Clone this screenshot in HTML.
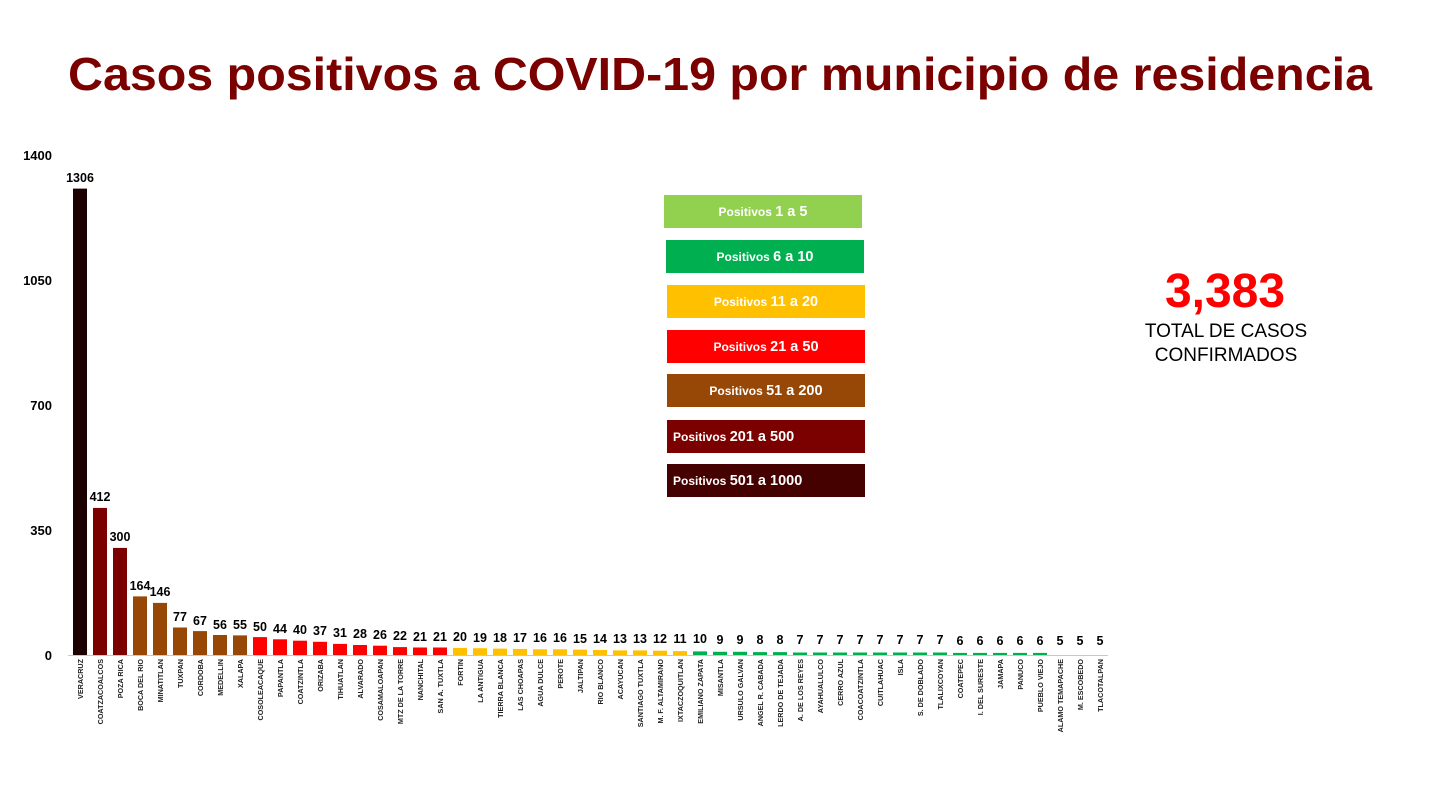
<!DOCTYPE html>
<html><head><meta charset="utf-8"><style>
html,body{margin:0;padding:0;background:#fff;}
svg{display:block;font-family:"Liberation Sans",Arial,sans-serif;}
.v{font-size:12.5px;font-weight:bold;text-anchor:middle;fill:#000}
.n{font-size:7.2px;font-weight:bold;text-anchor:end;fill:#222}
.y{font-size:13px;font-weight:bold;text-anchor:end;fill:#000}
.lg{font-size:12px;font-weight:bold;fill:#fff}
.lg tspan.b{font-size:14.5px}
</style></head><body>
<svg width="1440" height="810" viewBox="0 0 1440 810" xmlns="http://www.w3.org/2000/svg">
<rect width="1440" height="810" fill="#fff"/>
<text x="68" y="90" font-size="46" font-weight="bold" fill="#7b0000" textLength="1304" lengthAdjust="spacingAndGlyphs">Casos positivos a COVID-19  por municipio de residencia</text>

<text class="y" x="52" y="160">1400</text>
<text class="y" x="52" y="285">1050</text>
<text class="y" x="52" y="410">700</text>
<text class="y" x="52" y="535">350</text>
<text class="y" x="52" y="660">0</text>
<line x1="68" y1="655.5" x2="1108" y2="655.5" stroke="#c8c8c8" stroke-width="1"/>

<g id="bars">
<rect x="73" y="188.6" width="14" height="466.4" fill="#1c0000"/>
<rect x="93" y="507.9" width="14" height="147.1" fill="#7b0000"/>
<rect x="113" y="547.9" width="14" height="107.1" fill="#7b0000"/>
<rect x="133" y="596.4" width="14" height="58.6" fill="#974706"/>
<rect x="153" y="602.9" width="14" height="52.1" fill="#974706"/>
<rect x="173" y="627.5" width="14" height="27.5" fill="#974706"/>
<rect x="193" y="631.1" width="14" height="23.9" fill="#974706"/>
<rect x="213" y="635" width="14" height="20" fill="#974706"/>
<rect x="233" y="635.4" width="14" height="19.6" fill="#974706"/>
<rect x="253" y="637.1" width="14" height="17.9" fill="#ff0000"/>
<rect x="273" y="639.3" width="14" height="15.7" fill="#ff0000"/>
<rect x="293" y="640.7" width="14" height="14.3" fill="#ff0000"/>
<rect x="313" y="641.8" width="14" height="13.2" fill="#ff0000"/>
<rect x="333" y="643.9" width="14" height="11.1" fill="#ff0000"/>
<rect x="353" y="645" width="14" height="10" fill="#ff0000"/>
<rect x="373" y="645.7" width="14" height="9.3" fill="#ff0000"/>
<rect x="393" y="647.1" width="14" height="7.9" fill="#ff0000"/>
<rect x="413" y="647.5" width="14" height="7.5" fill="#ff0000"/>
<rect x="433" y="647.5" width="14" height="7.5" fill="#ff0000"/>
<rect x="453" y="647.9" width="14" height="7.1" fill="#ffc000"/>
<rect x="473" y="648.2" width="14" height="6.8" fill="#ffc000"/>
<rect x="493" y="648.6" width="14" height="6.4" fill="#ffc000"/>
<rect x="513" y="648.9" width="14" height="6.1" fill="#ffc000"/>
<rect x="533" y="649.3" width="14" height="5.7" fill="#ffc000"/>
<rect x="553" y="649.3" width="14" height="5.7" fill="#ffc000"/>
<rect x="573" y="649.6" width="14" height="5.4" fill="#ffc000"/>
<rect x="593" y="650" width="14" height="5" fill="#ffc000"/>
<rect x="613" y="650.4" width="14" height="4.6" fill="#ffc000"/>
<rect x="633" y="650.4" width="14" height="4.6" fill="#ffc000"/>
<rect x="653" y="650.7" width="14" height="4.3" fill="#ffc000"/>
<rect x="673" y="651.1" width="14" height="3.9" fill="#ffc000"/>
<rect x="693" y="651.4" width="14" height="3.6" fill="#00b050"/>
<rect x="713" y="651.8" width="14" height="3.2" fill="#00b050"/>
<rect x="733" y="651.8" width="14" height="3.2" fill="#00b050"/>
<rect x="753" y="652.1" width="14" height="2.9" fill="#00b050"/>
<rect x="773" y="652.1" width="14" height="2.9" fill="#00b050"/>
<rect x="793" y="652.5" width="14" height="2.5" fill="#00b050"/>
<rect x="813" y="652.5" width="14" height="2.5" fill="#00b050"/>
<rect x="833" y="652.5" width="14" height="2.5" fill="#00b050"/>
<rect x="853" y="652.5" width="14" height="2.5" fill="#00b050"/>
<rect x="873" y="652.5" width="14" height="2.5" fill="#00b050"/>
<rect x="893" y="652.5" width="14" height="2.5" fill="#00b050"/>
<rect x="913" y="652.5" width="14" height="2.5" fill="#00b050"/>
<rect x="933" y="652.5" width="14" height="2.5" fill="#00b050"/>
<rect x="953" y="652.9" width="14" height="2.1" fill="#00b050"/>
<rect x="973" y="652.9" width="14" height="2.1" fill="#00b050"/>
<rect x="993" y="652.9" width="14" height="2.1" fill="#00b050"/>
<rect x="1013" y="652.9" width="14" height="2.1" fill="#00b050"/>
<rect x="1033" y="652.9" width="14" height="2.1" fill="#00b050"/>
</g>

<g>
<text class="v" x="80" y="182">1306</text>
<text class="v" x="100" y="501">412</text>
<text class="v" x="120" y="541">300</text>
<text class="v" x="140" y="590">164</text>
<text class="v" x="160" y="596">146</text>
<text class="v" x="180" y="621">77</text>
<text class="v" x="200" y="625">67</text>
<text class="v" x="220" y="629">56</text>
<text class="v" x="240" y="629">55</text>
<text class="v" x="260" y="631">50</text>
<text class="v" x="280" y="633">44</text>
<text class="v" x="300" y="634">40</text>
<text class="v" x="320" y="635">37</text>
<text class="v" x="340" y="637">31</text>
<text class="v" x="360" y="638">28</text>
<text class="v" x="380" y="639">26</text>
<text class="v" x="400" y="640">22</text>
<text class="v" x="420" y="641">21</text>
<text class="v" x="440" y="641">21</text>
<text class="v" x="460" y="641">20</text>
<text class="v" x="480" y="642">19</text>
<text class="v" x="500" y="642">18</text>
<text class="v" x="520" y="642">17</text>
<text class="v" x="540" y="642">16</text>
<text class="v" x="560" y="642">16</text>
<text class="v" x="580" y="643">15</text>
<text class="v" x="600" y="643">14</text>
<text class="v" x="620" y="643">13</text>
<text class="v" x="640" y="643">13</text>
<text class="v" x="660" y="643">12</text>
<text class="v" x="680" y="643">11</text>
<text class="v" x="700" y="643">10</text>
<text class="v" x="720" y="644">9</text>
<text class="v" x="740" y="644">9</text>
<text class="v" x="760" y="644">8</text>
<text class="v" x="780" y="644">8</text>
<text class="v" x="800" y="644">7</text>
<text class="v" x="820" y="644">7</text>
<text class="v" x="840" y="644">7</text>
<text class="v" x="860" y="644">7</text>
<text class="v" x="880" y="644">7</text>
<text class="v" x="900" y="644">7</text>
<text class="v" x="920" y="644">7</text>
<text class="v" x="940" y="644">7</text>
<text class="v" x="960" y="645">6</text>
<text class="v" x="980" y="645">6</text>
<text class="v" x="1000" y="645">6</text>
<text class="v" x="1020" y="645">6</text>
<text class="v" x="1040" y="645">6</text>
<text class="v" x="1060" y="645">5</text>
<text class="v" x="1080" y="645">5</text>
<text class="v" x="1100" y="645">5</text>
</g>

<g>
<text class="n" transform="translate(83,659) rotate(-90)">VERACRUZ</text>
<text class="n" transform="translate(103,659) rotate(-90)">COATZACOALCOS</text>
<text class="n" transform="translate(123,659) rotate(-90)">POZA RICA</text>
<text class="n" transform="translate(143,659) rotate(-90)">BOCA DEL RIO</text>
<text class="n" transform="translate(163,659) rotate(-90)">MINATITLAN</text>
<text class="n" transform="translate(183,659) rotate(-90)">TUXPAN</text>
<text class="n" transform="translate(203,659) rotate(-90)">CORDOBA</text>
<text class="n" transform="translate(223,659) rotate(-90)">MEDELLIN</text>
<text class="n" transform="translate(243,659) rotate(-90)">XALAPA</text>
<text class="n" transform="translate(263,659) rotate(-90)">COSOLEACAQUE</text>
<text class="n" transform="translate(283,659) rotate(-90)">PAPANTLA</text>
<text class="n" transform="translate(303,659) rotate(-90)">COATZINTLA</text>
<text class="n" transform="translate(323,659) rotate(-90)">ORIZABA</text>
<text class="n" transform="translate(343,659) rotate(-90)">TIHUATLAN</text>
<text class="n" transform="translate(363,659) rotate(-90)">ALVARADO</text>
<text class="n" transform="translate(383,659) rotate(-90)">COSAMALOAPAN</text>
<text class="n" transform="translate(403,659) rotate(-90)">MTZ DE LA TORRE</text>
<text class="n" transform="translate(423,659) rotate(-90)">NANCHITAL</text>
<text class="n" transform="translate(443,659) rotate(-90)">SAN A. TUXTLA</text>
<text class="n" transform="translate(463,659) rotate(-90)">FORTIN</text>
<text class="n" transform="translate(483,659) rotate(-90)">LA ANTIGUA</text>
<text class="n" transform="translate(503,659) rotate(-90)">TIERRA BLANCA</text>
<text class="n" transform="translate(523,659) rotate(-90)">LAS CHOAPAS</text>
<text class="n" transform="translate(543,659) rotate(-90)">AGUA DULCE</text>
<text class="n" transform="translate(563,659) rotate(-90)">PEROTE</text>
<text class="n" transform="translate(583,659) rotate(-90)">JALTIPAN</text>
<text class="n" transform="translate(603,659) rotate(-90)">RIO BLANCO</text>
<text class="n" transform="translate(623,659) rotate(-90)">ACAYUCAN</text>
<text class="n" transform="translate(643,659) rotate(-90)">SANTIAGO TUXTLA</text>
<text class="n" transform="translate(663,659) rotate(-90)">M. F. ALTAMIRANO</text>
<text class="n" transform="translate(683,659) rotate(-90)">IXTACZOQUITLAN</text>
<text class="n" transform="translate(703,659) rotate(-90)">EMILIANO ZAPATA</text>
<text class="n" transform="translate(723,659) rotate(-90)">MISANTLA</text>
<text class="n" transform="translate(743,659) rotate(-90)">URSULO GALVAN</text>
<text class="n" transform="translate(763,659) rotate(-90)">ANGEL R. CABADA</text>
<text class="n" transform="translate(783,659) rotate(-90)">LERDO DE TEJADA</text>
<text class="n" transform="translate(803,659) rotate(-90)">A.  DE LOS REYES</text>
<text class="n" transform="translate(823,659) rotate(-90)">AYAHUALULCO</text>
<text class="n" transform="translate(843,659) rotate(-90)">CERRO AZUL</text>
<text class="n" transform="translate(863,659) rotate(-90)">COACOATZINTLA</text>
<text class="n" transform="translate(883,659) rotate(-90)">CUITLAHUAC</text>
<text class="n" transform="translate(903,659) rotate(-90)">ISLA</text>
<text class="n" transform="translate(923,659) rotate(-90)">S. DE DOBLADO</text>
<text class="n" transform="translate(943,659) rotate(-90)">TLALIXCOYAN</text>
<text class="n" transform="translate(963,659) rotate(-90)">COATEPEC</text>
<text class="n" transform="translate(983,659) rotate(-90)">I. DEL SURESTE</text>
<text class="n" transform="translate(1003,659) rotate(-90)">JAMAPA</text>
<text class="n" transform="translate(1023,659) rotate(-90)">PANUCO</text>
<text class="n" transform="translate(1043,659) rotate(-90)">PUEBLO VIEJO</text>
<text class="n" transform="translate(1063,659) rotate(-90)">ALAMO TEMAPACHE</text>
<text class="n" transform="translate(1083,659) rotate(-90)">M. ESCOBEDO</text>
<text class="n" transform="translate(1103,659) rotate(-90)">TLACOTALPAN</text>
</g>

<g>
<rect x="664" y="195" width="198" height="33" fill="#92d050"/>
<text class="lg" x="763" y="216" text-anchor="middle">Positivos <tspan class="b">1 a 5</tspan></text>
<rect x="666" y="240" width="198" height="33" fill="#00b050"/>
<text class="lg" x="765" y="261" text-anchor="middle">Positivos <tspan class="b">6 a 10</tspan></text>
<rect x="667" y="285" width="198" height="33" fill="#ffc000"/>
<text class="lg" x="766" y="306" text-anchor="middle">Positivos <tspan class="b">11 a 20</tspan></text>
<rect x="667" y="330" width="198" height="33" fill="#ff0000"/>
<text class="lg" x="766" y="351" text-anchor="middle">Positivos <tspan class="b">21 a 50</tspan></text>
<rect x="667" y="374" width="198" height="33" fill="#974706"/>
<text class="lg" x="766" y="395" text-anchor="middle">Positivos <tspan class="b">51 a 200</tspan></text>
<rect x="667" y="420" width="198" height="33" fill="#7b0000"/>
<text class="lg" x="673" y="441">Positivos <tspan class="b">201 a 500</tspan></text>
<rect x="667" y="464" width="198" height="33" fill="#450000"/>
<text class="lg" x="673" y="485">Positivos <tspan class="b">501 a 1000</tspan></text>
</g>

<text x="1225" y="307" font-size="48" font-weight="bold" fill="#ff0000" text-anchor="middle">3,383</text>
<text x="1226" y="337" font-size="19" fill="#000" text-anchor="middle">TOTAL DE CASOS</text>
<text x="1226" y="361" font-size="19" fill="#000" text-anchor="middle">CONFIRMADOS</text>
</svg>
</body></html>
